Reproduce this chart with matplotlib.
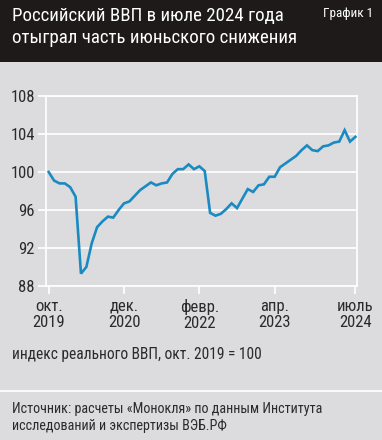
import matplotlib
matplotlib.use("Agg")
import matplotlib.pyplot as plt
from matplotlib import font_manager

# ---- data ----
months_idx = list(range(58))  # Oct 2019 .. Jul 2024
gdp_index = [100.0, 99.1, 98.8, 98.8, 98.4, 97.4, 89.3, 90.0, 92.5, 94.2,
             94.8, 95.3, 95.2, 96.0, 96.7, 96.9, 97.5, 98.1, 98.5, 98.9,
             98.6, 98.8, 98.9, 99.8, 100.3, 100.3, 100.8, 100.3, 100.6, 100.1,
             95.7, 95.4, 95.6, 96.1, 96.7, 96.2, 97.2, 98.2, 97.9, 98.6,
             98.7, 99.5, 99.5, 100.5, 100.9, 101.3, 101.7, 102.3, 102.8, 102.3,
             102.2, 102.7, 102.8, 103.1, 103.2, 104.4, 103.2, 103.7]
xtick_pos = [0, 14, 28, 42, 57]
xtick_labels = ["окт.\n2019", "дек.\n2020", "февр.\n2022", "апр.\n2023", "июль\n2024"]
ytick_vals = [88, 92, 96, 100, 104, 108]

names = {f.name for f in font_manager.fontManager.ttflist}
fam = [f for f in ["Liberation Sans Narrow", "Roboto Condensed", "Liberation Sans", "DejaVu Sans"] if f in names]
plt.rcParams["font.family"] = fam

BG = "#dcdcde"
HEAD = "#1e1a1a"
TXT = "#2b2b2b"
LINE = "#1a8bc2"

fig = plt.figure(figsize=(3.82, 4.40), dpi=100, facecolor=BG)

# header
fig.patches.append(plt.Rectangle((0, 1 - 62/440), 1, 62/440, transform=fig.transFigure,
                                 facecolor=HEAD, edgecolor="none", zorder=0))
fig.text(12/382, 1 - 7/440, "Российский ВВП в июле 2024 года\nотыграл часть июньского снижения",
         color="white", fontsize=13.6, va="top", ha="left", linespacing=1.3)
fig.text(373/382, 1 - 7/440, "График 1", color="white", fontsize=9.5, va="top", ha="right")

ax = fig.add_axes([46/382, (440-286)/440, 311/382, 190/440])
ax.set_facecolor(BG)
ax.plot(months_idx, gdp_index, color=LINE, lw=1.9, solid_joinstyle="miter", zorder=3)
ax.set_xlim(-0.5, 57.3)
ax.set_ylim(88, 108)
ax.set_yticks(ytick_vals)
ax.set_yticklabels([str(v) for v in ytick_vals])
ax.set_xticks(xtick_pos)
ax.set_xticklabels(xtick_labels, linespacing=1.15)
ax.grid(axis="y", color="white", lw=1.2)
ax.set_axisbelow(True)
for s in ["left", "right", "bottom", "top"]:
    ax.spines[s].set_color("white")
    ax.spines[s].set_linewidth(1.2)
ax.tick_params(axis="both", colors="white", labelcolor=TXT, labelsize=12, length=6, width=1.2)
ax.tick_params(axis="y", pad=2)
ax.tick_params(axis="x", pad=3)

fig.text(12/382, 1 - 355/440, "индекс реального ВВП, окт. 2019 = 100", color=TXT,
         fontsize=11.2, va="center", ha="left")
fig.add_artist(plt.Line2D([0, 1], [1 - 391/440, 1 - 391/440], transform=fig.transFigure,
                          color="white", lw=1.2))
fig.text(12/382, 1 - 402/440, "Источник: расчеты «Монокля» по данным Института\nисследований и экспертизы ВЭБ.РФ",
         color=TXT, fontsize=10.2, va="top", ha="left", linespacing=1.25)

fig.savefig("out.png", dpi=100, facecolor=BG)
